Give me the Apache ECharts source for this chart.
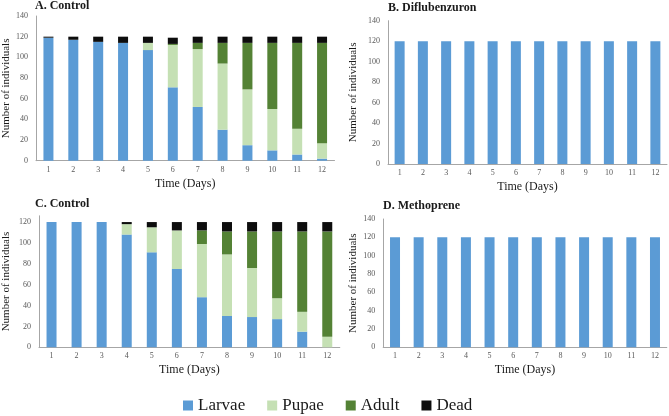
<!DOCTYPE html>
<html><head><meta charset="utf-8">
<script src="https://cdn.jsdelivr.net/npm/echarts@6/dist/echarts.min.js"></script>
<style>html,body{margin:0;padding:0;background:#fff}#c{width:669px;height:416px}</style>
</head><body><div id="c"></div>
<script>
const days = ['1','2','3','4','5','6','7','8','9','10','11','12'];
const seriesNames = ['Larvae','Pupae','Adult','Dead'];
// Panel A (Control)
const aLarvae = [119,117,115,114,107,71,52,30,15,10,6,2];
const aPupae  = [0,0,0,0,7,41,56,64,54,40,25,15];
const aAdult  = [0,0,0,0,0,1,6,20,45,64,83,97];
const aDead   = [1,3,5,6,6,6,6,6,6,6,6,6];
// Panel B (Diflubenzuron)
const bLarvae = [120,120,120,120,120,120,120,120,120,120,120,120];
// Panel C (Control)
const cLarvae = [120,120,120,108,91,75,48,30,29,27,15,0];
const cPupae  = [0,0,0,10,24,37,51,59,47,20,19,10];
const cAdult  = [0,0,0,0,0,0,13,22,35,64,77,101];
const cDead   = [0,0,0,2,5,8,8,9,9,9,9,9];
// Panel D (Methoprene)
const dLarvae = [120,120,120,120,120,120,120,120,120,120,120,120];
const titles = ['A. Control','B. Diflubenzuron','C. Control','D. Methoprene'];
const xName = 'Time (Days)';
const yName = 'Number of individuals';

const colors = {Larvae:'#5B9BD5', Pupae:'#C5E0B4', Adult:'#548235', Dead:'#0d0d0d'};
const FF = 'Liberation Serif';

const grids = [
  {left:34.5, top:16, width:300, height:144.7},
  {left:388, top:20.7, width:279, height:143.3},
  {left:34.3, top:215.8, width:305.5, height:131.5},
  {left:383.2, top:219, width:283.6, height:128.3}
];
const yMax = [140,140,126,140];
const yGap = [24,29,27,25];
const titlePos = [[35,0],[388,2],[35,198],[383,200]];

const xAxis = grids.map((g,i)=>({
  type:'category', gridIndex:i, data:days,
  axisLine:{lineStyle:{color:'#a6a6a6',width:1}},
  axisTick:{show:false},
  axisLabel:{fontFamily:FF, fontSize:8, color:'#595959', margin:5},
  name:xName, nameLocation:'middle', nameGap:17,
  nameTextStyle:{fontFamily:FF, fontSize:12, color:'#1a1a1a'}
}));
const yAxis = grids.map((g,i)=>({
  type:'value', gridIndex:i, min:0, max:yMax[i], interval:20,
  axisLine:{show:true, lineStyle:{color:'#a6a6a6',width:1}},
  axisTick:{show:false},
  splitLine:{show:false},
  axisLabel:{fontFamily:FF, fontSize:8, color:'#595959', margin:8, showMaxLabel: i!==2},
  name:yName, nameLocation:'middle', nameGap:yGap[i],
  nameTextStyle:{fontFamily:FF, fontSize:11, color:'#1a1a1a'}
}));

function bar(name, data, idx, stack){
  return {type:'bar', name:name, data:data, xAxisIndex:idx, yAxisIndex:idx,
    stack:stack, barWidth:10, itemStyle:{color:colors[name]}};
}
const series = [
  bar('Larvae',aLarvae,0,'A'), bar('Pupae',aPupae,0,'A'), bar('Adult',aAdult,0,'A'), bar('Dead',aDead,0,'A'),
  bar('Larvae',bLarvae,1,'B'),
  bar('Larvae',cLarvae,2,'C'), bar('Pupae',cPupae,2,'C'), bar('Adult',cAdult,2,'C'), bar('Dead',cDead,2,'C'),
  bar('Larvae',dLarvae,3,'D')
];

const chart = echarts.init(document.getElementById('c'), null, {renderer:'canvas'});
chart.setOption({
  animation:false,
  backgroundColor:'#fff',
  textStyle:{fontFamily:FF},
  title: titles.map((t,i)=>({text:t, left:titlePos[i][0], top:titlePos[i][1], padding:0,
    textStyle:{fontFamily:FF, fontSize:12, fontWeight:'bold', color:'#1a1a1a'}})),
  legend:{data:seriesNames, left:183, top:397, itemWidth:10, itemHeight:10, itemGap:22,
    icon:'rect', padding:0,
    textStyle:{fontFamily:FF, fontSize:17, color:'#1a1a1a'}},
  grid:grids,
  xAxis:xAxis,
  yAxis:yAxis,
  series:series
});
</script></body></html>
